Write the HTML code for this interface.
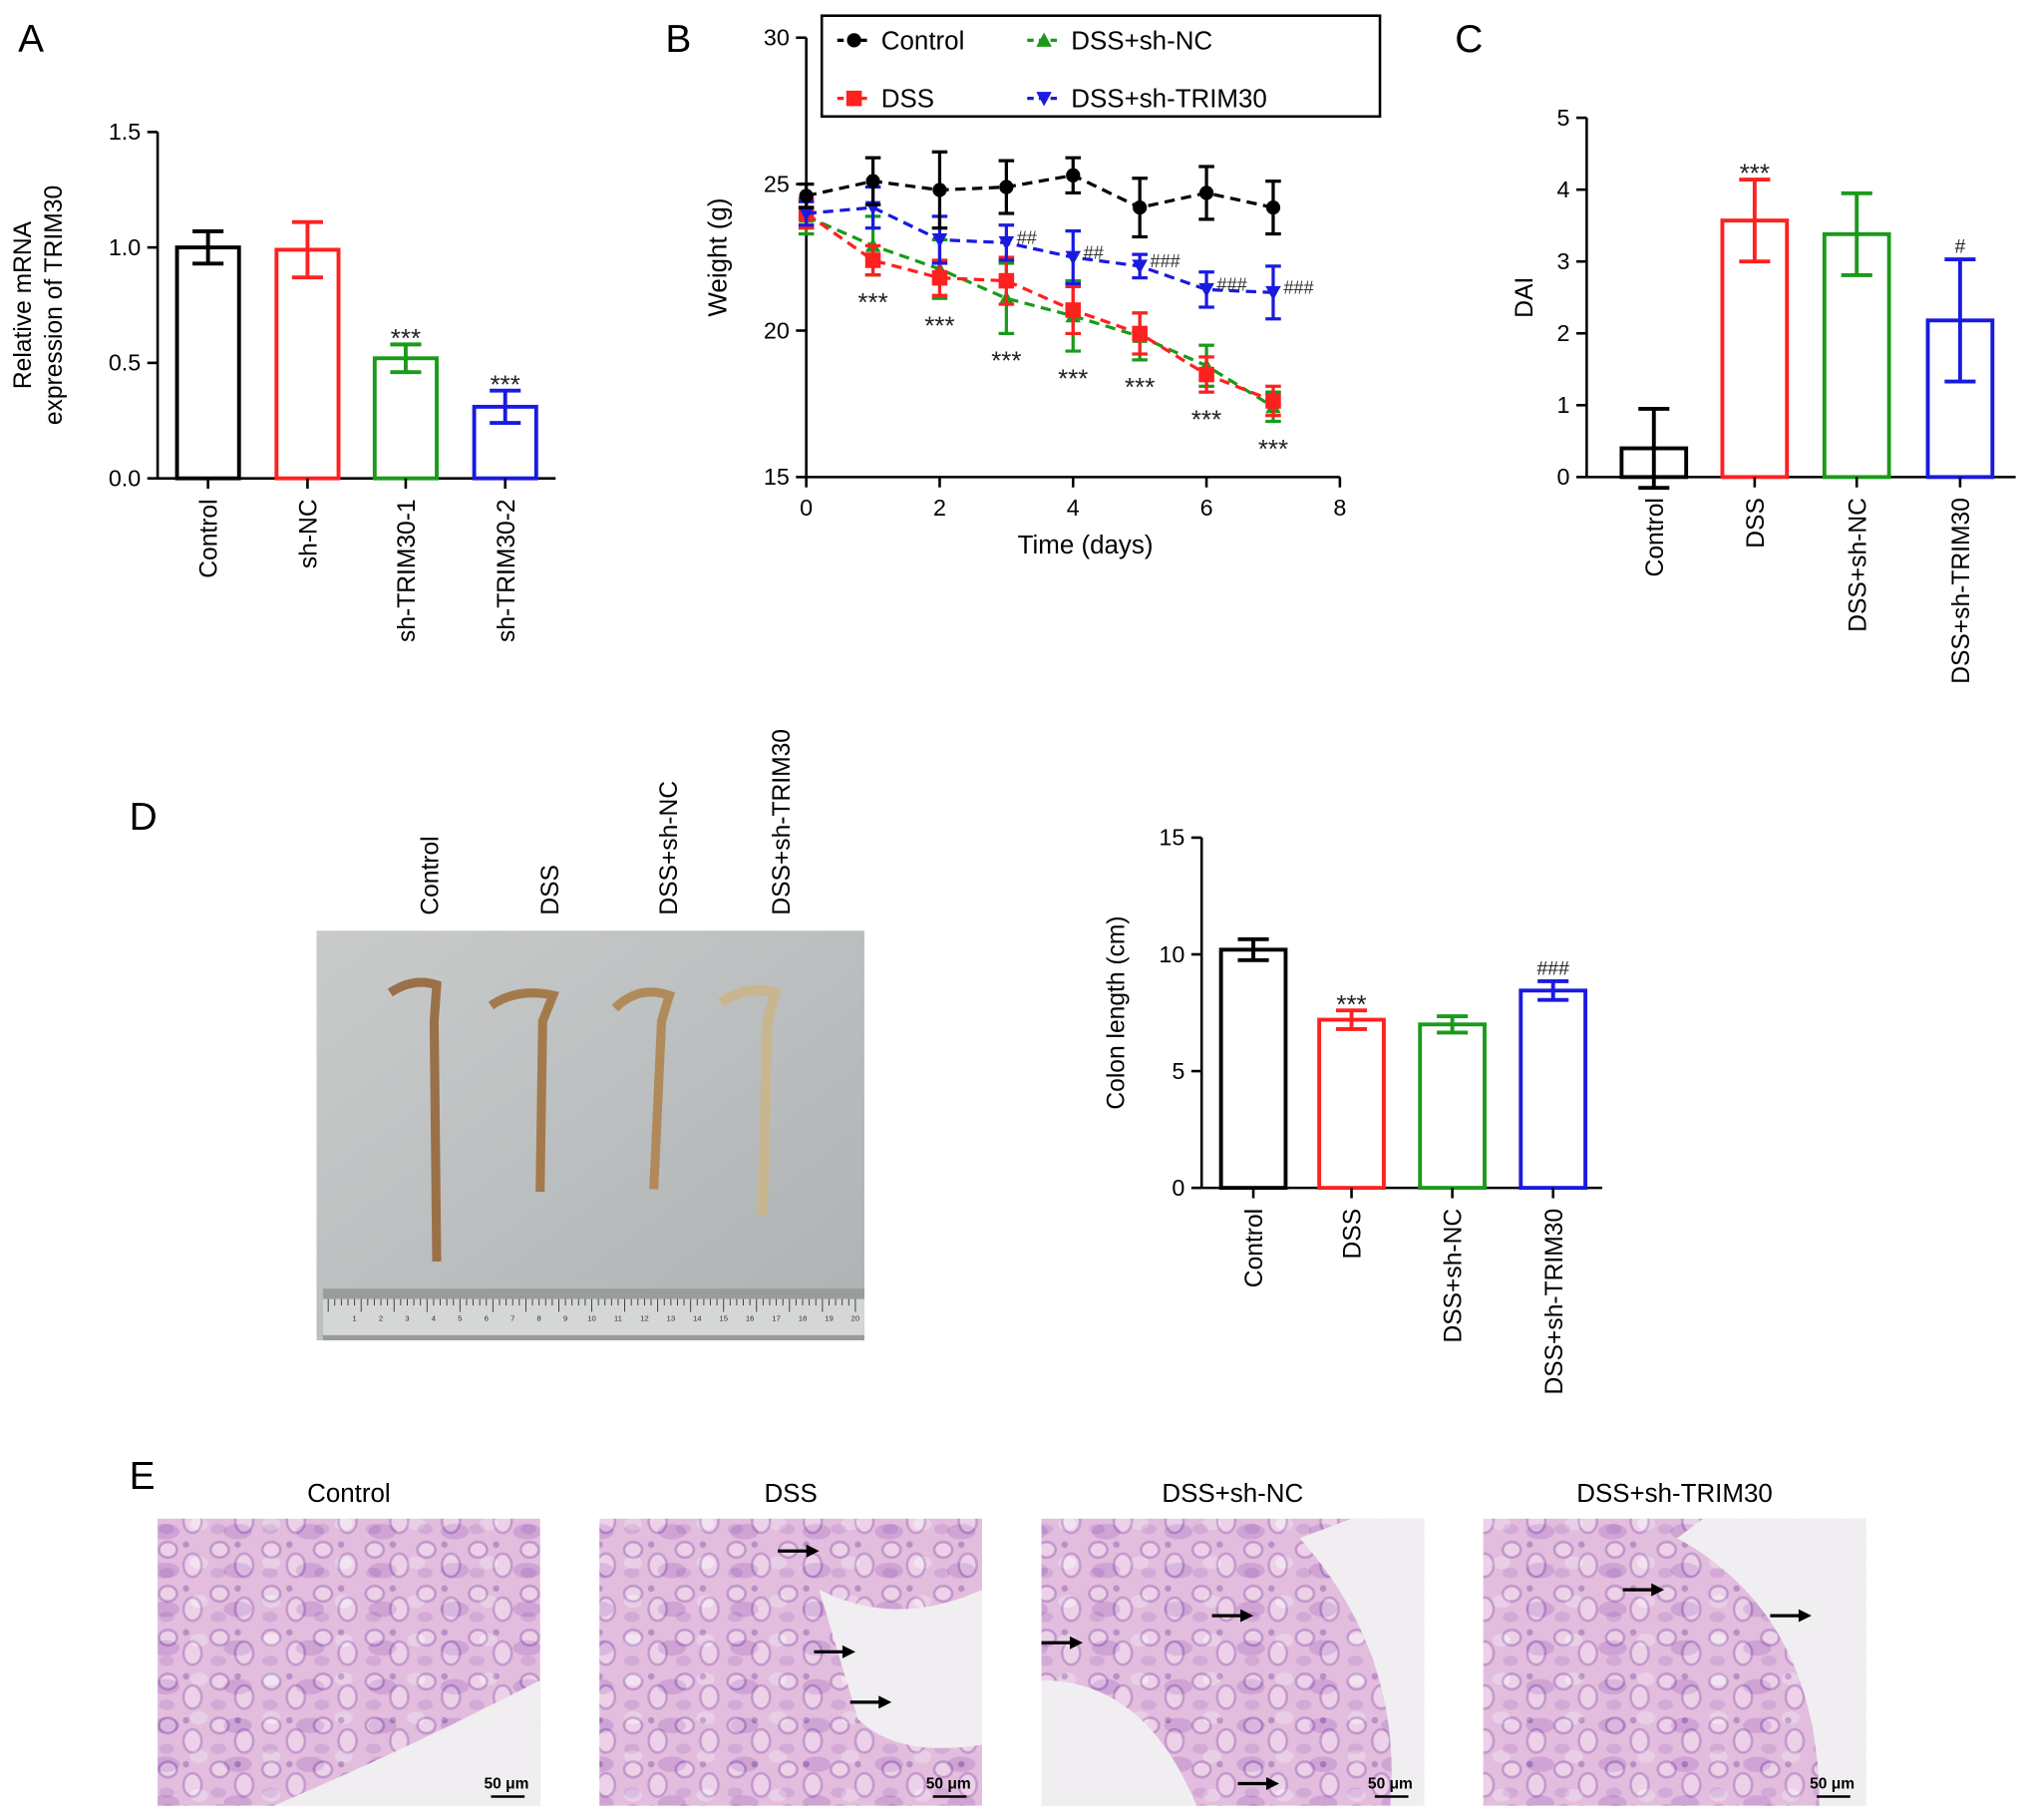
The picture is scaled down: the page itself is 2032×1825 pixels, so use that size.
<!DOCTYPE html>
<html><head><meta charset="utf-8"><style>
html,body{margin:0;padding:0;background:#fff}
svg{display:block;font-family:"Liberation Sans",Arial,sans-serif}
</style></head><body>
<svg id="fig" width="2032" height="1825" viewBox="0 0 1568 1408" xmlns="http://www.w3.org/2000/svg">
<defs>
<pattern id="histo" width="40" height="34" patternUnits="userSpaceOnUse">
<rect width="40" height="34" fill="#dcb4d8"/>
<ellipse cx="10" cy="9" rx="7" ry="6" fill="#efdcee" stroke="#9a66b5" stroke-width="2"/>
<ellipse cx="29" cy="21" rx="7" ry="9" fill="#efdcee" stroke="#a06cba" stroke-width="2"/>
<ellipse cx="9" cy="27" rx="6" ry="4" fill="#a874c0" opacity=".6"/>
<circle cx="24" cy="5" r="2.5" fill="#8a58aa"/>
</pattern>
<pattern id="histo2" width="56" height="30" patternUnits="userSpaceOnUse">
<rect width="56" height="30" fill="#e9c6e2"/>
<ellipse cx="16" cy="15" rx="11" ry="6" fill="#b37fca" opacity=".7"/>
<ellipse cx="42" cy="9" rx="7" ry="5" fill="#f5eaf3"/>
</pattern>
<linearGradient id="photoG" x1="0" y1="0" x2="1" y2="1">
<stop offset="0" stop-color="#c9cbcb"/><stop offset="1" stop-color="#aeb2b3"/></linearGradient>
</defs>
<g id="letters" font-size="30" fill="#000">
<text x="14" y="40">A</text>
<text x="515" y="40">B</text>
<text x="1126" y="40">C</text>
<text x="100" y="642">D</text>
<text x="100" y="1152">E</text>
</g>
<g id="pA"></g><g id="pB"></g><g id="pC"></g><g id="pD"></g>
<g id="photo">
<rect x="245" y="720" width="424" height="317" fill="url(#photoG)"/>
<path d="M302 768 Q320 756 338 762 L336 790 L338 976" stroke="#9a7048" stroke-width="7" fill="none"/>
<path d="M380 778 Q400 764 428 770 L420 790 L418 922" stroke="#a47a4c" stroke-width="7" fill="none"/>
<path d="M476 780 Q494 762 518 770 L512 790 L506 920" stroke="#b08a5a" stroke-width="7" fill="none"/>
<path d="M558 776 Q576 762 600 768 L594 790 L590 940" stroke="#c8b690" stroke-width="8" fill="none"/>
<rect x="250" y="997" width="419" height="40" fill="#9a9c9c"/>
<rect x="250" y="1005" width="419" height="28" fill="#d5d6d6"/>
<g id="ruler"></g>
</g>
<g id="pE"></g>
</svg>
<script>
const NS='http://www.w3.org/2000/svg';
function mk(p,tag,a,txt){const e=document.createElementNS(NS,tag);for(const k in a)e.setAttribute(k,a[k]);if(txt!==undefined)e.textContent=txt;p.appendChild(e);return e;}

// ---------- Panel A data ----------
const aCats=['Control','sh-NC','sh-TRIM30-1','sh-TRIM30-2'];
const aVals=[1.0,0.99,0.52,0.31];
const aErr=[0.07,0.12,0.06,0.07];
const aSig=['','','***','***'];
const aTicks=[0,0.5,1.0,1.5];
// ---------- Panel B data ----------
const bDays=[0,1,2,3,4,5,6,7];
const bControl=[24.6,25.1,24.8,24.9,25.3,24.2,24.7,24.2];
const bControlErr=[0.4,0.8,1.3,0.9,0.6,1.0,0.9,0.9];
const bDSS=[24.0,22.4,21.8,21.7,20.7,19.9,18.5,17.6];
const bDSSErr=[0.5,0.5,0.6,0.8,0.8,0.7,0.6,0.5];
const bNC=[23.9,22.9,22.1,21.1,20.5,19.8,18.8,17.4];
const bNCErr=[0.6,1.0,1.0,1.2,1.2,0.8,0.7,0.5];
const bSh=[24.0,24.2,23.1,23.0,22.5,22.2,21.4,21.3];
const bShErr=[0.4,0.7,0.8,0.6,0.9,0.4,0.6,0.9];
const bStars=['','***','***','***','***','***','***','***'];
const bHash=['','','','##','##','###','###','###'];
const bYTicks=[15,20,25,30];
const bXTicks=[0,2,4,6,8];
// ---------- Panel C data ----------
const cCats=['Control','DSS','DSS+sh-NC','DSS+sh-TRIM30'];
const cVals=[0.4,3.57,3.38,2.18];
const cErr=[0.55,0.57,0.57,0.85];
const cSig=['','***','','#'];
const cTicks=[0,1,2,3,4,5];
// ---------- Panel D data ----------
const dCats=['Control','DSS','DSS+sh-NC','DSS+sh-TRIM30'];
const dVals=[10.2,7.2,7.0,8.45];
const dErr=[0.45,0.4,0.35,0.4];
const dSig=['','***','','###'];
const dTicks=[0,5,10,15];
const colors=['#000','#ff2020','#1a9a1a','#1a1adf'];

function barChart(g,o){
  const y=v=>o.y0-(v-o.min)/(o.max-o.min)*(o.y0-o.y1);
  mk(g,'line',{x1:o.x0,y1:o.y0,x2:o.x0,y2:o.y1,stroke:'#000','stroke-width':2});
  mk(g,'line',{x1:o.x0,y1:o.y0,x2:o.x2,y2:o.y0,stroke:'#000','stroke-width':2});
  o.ticks.forEach(t=>{const yy=y(t);
    const tk=mk(g,'line',{x1:o.x0-8,y1:yy,x2:o.x0,y2:yy,stroke:'#000','stroke-width':2});
    
    const tl=mk(g,'text',{x:o.x0-13,y:yy+6,'font-size':18,'text-anchor':'end'},o.fmt(t));
    });
  o.cats.forEach((c,i)=>{const cx=o.cx[i],w=o.bw,top=y(o.vals[i]),col=colors[i];
    const b=mk(g,'rect',{x:cx-w/2,y:top,width:w,height:o.y0-top,fill:'none',stroke:col,'stroke-width':3});
    
    const eh=y(o.vals[i]+o.err[i]),el=y(o.vals[i]-o.err[i]);
    mk(g,'line',{x1:cx,y1:eh,x2:cx,y2:el,stroke:col,'stroke-width':3});
    mk(g,'line',{x1:cx-12,y1:eh,x2:cx+12,y2:eh,stroke:col,'stroke-width':3});
    mk(g,'line',{x1:cx-12,y1:el,x2:cx+12,y2:el,stroke:col,'stroke-width':3});
    mk(g,'line',{x1:cx,y1:o.y0,x2:cx,y2:o.y0+8,stroke:'#000','stroke-width':2});
    if(o.sig[i]){const s=mk(g,'text',{x:cx,y:eh+(o.sig[i][0]=='#'?-5:2),'font-size':o.sig[i][0]=='#'?15:20,'text-anchor':'middle',fill:'#222'},o.sig[i]);
      }
    const l=mk(g,'text',{transform:`translate(${cx+7},${o.y0+16}) rotate(-90)`,'font-size':19,'text-anchor':'end'},c);
    
  });
  o.ylab.forEach((t,k)=>{const l=mk(g,'text',{transform:`translate(${o.ylx+k*24},${(o.y0+o.y1)/2}) rotate(-90)`,'font-size':19,'text-anchor':'middle'},t);
    });
}
barChart(document.getElementById('pA'),{x0:122,x2:430,y0:370,y1:102,min:0,max:1.5,ticks:aTicks,fmt:t=>t.toFixed(1),cats:aCats,vals:aVals,err:aErr,sig:aSig,cx:[161,238,314,391],bw:48,ylab:['Relative mRNA','expression of TRIM30'],ylx:24});
barChart(document.getElementById('pC'),{x0:1228,x2:1560,y0:369,y1:91,min:0,max:5,ticks:cTicks,fmt:t=>String(t),cats:cCats,vals:cVals,err:cErr,sig:cSig,cx:[1280,1358,1437,1517],bw:50,ylab:['DAI'],ylx:1186});
barChart(document.getElementById('pD'),{x0:930,x2:1240,y0:919,y1:648,min:0,max:15,ticks:dTicks,fmt:t=>String(t),cats:dCats,vals:dVals,err:dErr,sig:dSig,cx:[970,1046,1124,1202],bw:50,ylab:['Colon length (cm)'],ylx:870});

// Panel B line chart
(function(){
  const g=document.getElementById('pB');
  const X0=624,X1=1037,Y0=369,Y1=29;
  const x=d=>X0+d/8*(X1-X0), y=v=>Y0-(v-15)/15*(Y0-Y1);
  mk(g,'line',{x1:X0,y1:Y0,x2:X0,y2:Y1,stroke:'#000','stroke-width':2});
  mk(g,'line',{x1:X0,y1:Y0,x2:X1,y2:Y0,stroke:'#000','stroke-width':2});
  bYTicks.forEach(t=>{mk(g,'line',{x1:X0-8,y1:y(t),x2:X0,y2:y(t),stroke:'#000','stroke-width':2});
    const l=mk(g,'text',{x:X0-13,y:y(t)+6,'font-size':18,'text-anchor':'end'},t);
    });
  bXTicks.forEach(t=>{mk(g,'line',{x1:x(t),y1:Y0,x2:x(t),y2:Y0+8,stroke:'#000','stroke-width':2});
    const l=mk(g,'text',{x:x(t),y:Y0+30,'font-size':18,'text-anchor':'middle'},t);
    });
  const xl=mk(g,'text',{x:840,y:428,'font-size':20,'text-anchor':'middle'},'Time (days)');
  
  const yl=mk(g,'text',{transform:'translate(562,199) rotate(-90)','font-size':20,'text-anchor':'middle'},'Weight (g)');
  
  const series=[[bNC,bNCErr,'#1a9a1a','tri','dss-sh-nc'],[bDSS,bDSSErr,'#ff2020','sq','dss'],[bSh,bShErr,'#1a1adf','itri','dss-sh-trim30'],[bControl,bControlErr,'#000','dot','control']];
  function marker(p,cx,cy,t,c){
    if(t=='dot')return mk(p,'circle',{cx,cy,r:5.5,fill:c});
    if(t=='sq')return mk(p,'rect',{x:cx-6,y:cy-6,width:12,height:12,fill:c});
    if(t=='tri')return mk(p,'polygon',{points:`${cx},${cy-6} ${cx-6},${cy+5} ${cx+6},${cy+5}`,fill:c});
    return mk(p,'polygon',{points:`${cx},${cy+6} ${cx-6},${cy-5} ${cx+6},${cy-5}`,fill:c});
  }
  series.forEach(([v,e,c,t,n])=>{
    const sg=mk(g,'g',{});
    
    mk(sg,'polyline',{points:bDays.map((d,i)=>x(d)+','+y(v[i])).join(' '),fill:'none',stroke:c,'stroke-width':2.5,'stroke-dasharray':'8,5'});
    bDays.forEach((d,i)=>{const cx=x(d),hi=y(v[i]+e[i]),lo=y(v[i]-e[i]);
      mk(sg,'line',{x1:cx,y1:hi,x2:cx,y2:lo,stroke:c,'stroke-width':2.5});
      mk(sg,'line',{x1:cx-6,y1:hi,x2:cx+6,y2:hi,stroke:c,'stroke-width':2.5});
      mk(sg,'line',{x1:cx-6,y1:lo,x2:cx+6,y2:lo,stroke:c,'stroke-width':2.5});
      const m=marker(sg,cx,y(v[i]),t,c);
      });
  });
  bDays.forEach((d,i)=>{
    if(bStars[i]){const lo=Math.max(y(bDSS[i]-bDSSErr[i]),y(bNC[i]-bNCErr[i]));
      const s=mk(g,'text',{x:x(d),y:lo+28,'font-size':20,'text-anchor':'middle',fill:'#222'},bStars[i]);
      }
    if(bHash[i]){const s=mk(g,'text',{x:x(d)+8,y:y(bSh[i])+1,'font-size':14,fill:'#333'},bHash[i]);
      }
  });
  const lg=mk(g,'g',{});
  
  mk(lg,'rect',{x:636,y:12,width:432,height:78,fill:'#fff',stroke:'#000','stroke-width':2});
  [['Control','#000','dot',648,31],['DSS+sh-NC','#1a9a1a','tri',795,31],['DSS','#ff2020','sq',648,76],['DSS+sh-TRIM30','#1a1adf','itri',795,76]].forEach(([t,c,m,lx,ly])=>{
    const e=mk(lg,'g',{});
    mk(e,'line',{x1:lx,y1:ly,x2:lx+26,y2:ly,stroke:c,'stroke-width':2.5,'stroke-dasharray':'5,4'});
    marker(e,lx+13,ly,m,c);
    mk(e,'text',{x:lx+34,y:ly+7,'font-size':20},t);
  });
})();

// photo labels and ruler
(function(){
  const g=document.getElementById('photo');
  [['Control',332],['DSS',425],['DSS+sh-NC',517],['DSS+sh-TRIM30',604]].forEach(([t,cx])=>{
    const l=mk(g,'text',{transform:`translate(${cx+7},708) rotate(-90)`,'font-size':19},t);
    });
  const r=document.getElementById('ruler');
  for(let i=0;i<=80;i++){const xx=254+i*5.1;mk(r,'line',{x1:xx,y1:1005,x2:xx,y2:i%5?1010:1015,stroke:'#333','stroke-width':0.7});}
  for(let i=1;i<=20;i++){mk(r,'text',{x:254+i*20.4,y:1022,'font-size':6,'text-anchor':'middle',fill:'#333'},i);}
})();

// Panel E
(function(){
  const g=document.getElementById('pE');
  const titles=['Control','DSS','DSS+sh-NC','DSS+sh-TRIM30'];
  const xs=[122,464,806,1148];
  const arrows=[[],[[602,1200],[630,1278],[658,1317]],[[806,1271],[938,1250],[958,1380]],[[1256,1230],[1370,1250]]];
  titles.forEach((t,i)=>{
    const x0=xs[i];
    const l=mk(g,'text',{x:x0+148,y:1162,'font-size':20,'text-anchor':'middle'},t);
    
    const im=mk(g,'g',{});
    
    mk(im,'rect',{x:x0,y:1175,width:296,height:222,fill:'url(#histo)'});
    mk(im,'rect',{x:x0,y:1175,width:296,height:222,fill:'url(#histo2)',opacity:.5});
    if(i==0)mk(im,'path',{d:`M${x0+90} 1397 Q${x0+200} 1350 ${x0+296} 1300 L${x0+296} 1397Z`,fill:'#f0eef0'});
    if(i==1)mk(im,'path',{d:`M${x0+170} 1230 Q${x0+230} 1260 ${x0+296} 1230 L${x0+296} 1350 Q${x0+230} 1360 ${x0+200} 1330Z`,fill:'#f1eef1'});
    if(i==2)mk(im,'path',{d:`M${x0} 1300 Q${x0+80} 1300 ${x0+120} 1397 L${x0} 1397Z M${x0+240} 1175 L${x0+296} 1175 L${x0+296} 1397 L${x0+270} 1397 Q${x0+280} 1280 ${x0+200} 1190Z`,fill:'#f1eef1'});
    if(i==3)mk(im,'path',{d:`M${x0+170} 1175 L${x0+296} 1175 L${x0+296} 1397 L${x0+260} 1397 Q${x0+260} 1250 ${x0+150} 1190Z`,fill:'#f1eef1'});
    mk(im,'text',{x:x0+270,y:1384,'font-size':12,'font-weight':'bold','text-anchor':'middle'},'50 μm');
    mk(im,'line',{x1:x0+258,y1:1390,x2:x0+284,y2:1390,stroke:'#000','stroke-width':2});
    arrows[i].forEach(([ax,ay])=>{const a=mk(g,'g',{});
      
      mk(a,'line',{x1:ax,y1:ay,x2:ax+28,y2:ay,stroke:'#000','stroke-width':2.5});
      mk(a,'polygon',{points:`${ax+32},${ay} ${ax+22},${ay-5} ${ax+22},${ay+5}`,fill:'#000'});});
  });
})();
</script>
</body></html>
